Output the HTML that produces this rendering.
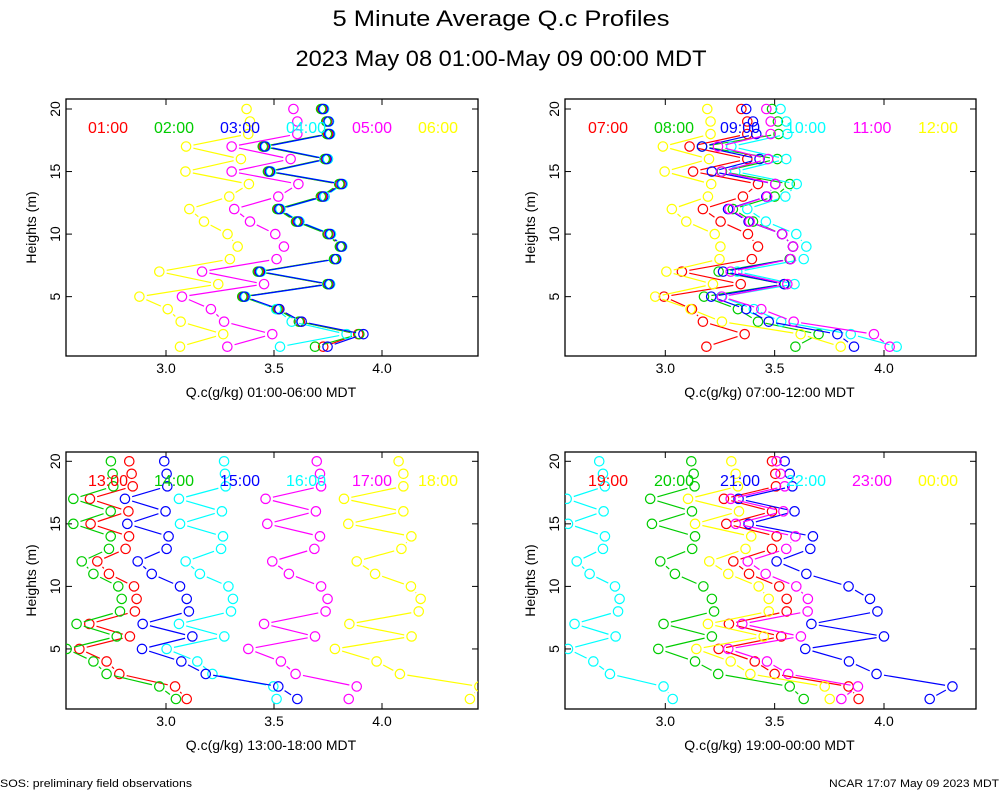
<!DOCTYPE html>
<html><head><meta charset="utf-8"><title>5 Minute Average Q.c Profiles</title>
<style>
html,body{margin:0;padding:0;background:#fff;}
svg{display:block;font-family:"Liberation Sans",sans-serif;}
</style></head>
<body>
<svg id="chart" width="1000" height="800" viewBox="0 0 1000 800" xmlns="http://www.w3.org/2000/svg">
<rect x="0" y="0" width="1000" height="800" fill="#fff"/>
<text x="501" y="26" font-size="22" text-anchor="middle" textLength="337" lengthAdjust="spacingAndGlyphs">5 Minute Average Q.c Profiles</text>
<text x="501" y="66" font-size="22" text-anchor="middle" textLength="411" lengthAdjust="spacingAndGlyphs">2023 May 08 01:00-May 09 00:00 MDT</text>
<text x="0" y="787" font-size="11" textLength="192" lengthAdjust="spacingAndGlyphs">SOS: preliminary field observations</text>
<text x="999" y="787" font-size="11" text-anchor="end" textLength="170" lengthAdjust="spacingAndGlyphs">NCAR 17:07 May 09 2023 MDT</text>
<g id="panels"></g>
</svg>
<script>
const heights = [20,19,18,17,16,15,14,13,12,11,10,9,8,7,6,5,4,3,2,1];
const xTicks = [3.0,3.5,4.0];
const xTickLabels = ["3.0","3.5","4.0"];
const yTicks = [5,10,15,20];
const yTickLabels = ["5","10","15","20"];
const colors = ["#ff0000","#00cc00","#0000ff","#00ffff","#ff00ff","#ffff00"];
const drawOrder = [0,1,3,2,4,5];

const p1Labels = ["01:00","02:00","03:00","04:00","05:00","06:00"];
const p1_0100 = [3.722,3.745,3.750,3.452,3.740,3.475,3.806,3.722,3.520,3.607,3.752,3.808,3.781,3.430,3.750,3.357,3.520,3.620,3.890,3.728];
const p1_0200 = [3.718,3.742,3.745,3.448,3.735,3.472,3.802,3.717,3.515,3.602,3.748,3.805,3.778,3.425,3.747,3.353,3.515,3.615,3.895,3.690];
const p1_0300 = [3.728,3.752,3.756,3.458,3.744,3.481,3.813,3.728,3.525,3.613,3.759,3.813,3.787,3.435,3.756,3.363,3.525,3.628,3.914,3.748];
const p1_0400 = [3.732,3.755,3.760,3.462,3.750,3.486,3.818,3.735,3.530,3.618,3.764,3.816,3.790,3.440,3.760,3.368,3.510,3.582,3.836,3.528];
const p1_0500 = [3.590,3.608,3.608,3.304,3.577,3.304,3.613,3.520,3.316,3.389,3.506,3.546,3.512,3.167,3.454,3.074,3.208,3.269,3.492,3.284];
const p1_0600 = [3.373,3.389,3.381,3.093,3.347,3.090,3.384,3.293,3.108,3.176,3.285,3.332,3.296,2.969,3.242,2.877,3.008,3.068,3.265,3.065];

const p2Labels = ["07:00","08:00","09:00","10:00","11:00","12:00"];
const p2_0700 = [3.348,3.375,3.375,3.111,3.375,3.127,3.424,3.355,3.172,3.253,3.378,3.424,3.396,3.076,3.345,2.994,3.122,3.172,3.363,3.188];
const p2_0800 = [3.488,3.515,3.518,3.168,3.512,3.259,3.569,3.500,3.309,3.401,3.534,3.584,3.569,3.244,3.546,3.177,3.332,3.424,3.701,3.595];
const p2_0900 = [3.370,3.401,3.416,3.168,3.431,3.213,3.503,3.462,3.287,3.381,3.534,3.584,3.572,3.264,3.543,3.210,3.370,3.473,3.787,3.863];
const p2_1000 = [3.527,3.553,3.558,3.302,3.553,3.320,3.601,3.549,3.375,3.460,3.599,3.645,3.633,3.329,3.591,3.256,3.405,3.530,3.848,4.058];
const p2_1100 = [3.462,3.482,3.482,3.241,3.470,3.256,3.503,3.466,3.294,3.386,3.535,3.584,3.573,3.299,3.558,3.259,3.439,3.587,3.954,4.026];
const p2_1200 = [3.192,3.207,3.207,2.989,3.200,2.997,3.210,3.195,3.030,3.096,3.226,3.252,3.248,3.005,3.218,2.954,3.116,3.259,3.619,3.802];

const p3Labels = ["13:00","14:00","15:00","16:00","17:00","18:00"];
const p3_1300 = [2.830,2.841,2.846,2.648,2.826,2.651,2.829,2.813,2.682,2.736,2.852,2.864,2.856,2.645,2.833,2.599,2.725,2.784,3.042,3.096];
const p3_1400 = [2.745,2.753,2.756,2.571,2.744,2.571,2.744,2.736,2.610,2.664,2.779,2.795,2.787,2.586,2.772,2.540,2.664,2.725,2.969,3.046];
const p3_1500 = [2.992,3.003,3.006,2.810,2.998,2.821,3.012,3.003,2.869,2.934,3.065,3.096,3.106,2.892,3.122,2.889,3.071,3.184,3.520,3.608];
const p3_1600 = [3.269,3.273,3.276,3.060,3.259,3.065,3.264,3.255,3.091,3.157,3.289,3.310,3.301,3.060,3.270,3.003,3.145,3.215,3.497,3.512];
const p3_1700 = [3.698,3.713,3.718,3.461,3.694,3.469,3.713,3.687,3.492,3.569,3.718,3.748,3.739,3.454,3.690,3.381,3.532,3.600,3.883,3.846];
const p3_1800 = [4.077,4.099,4.099,3.824,4.099,3.844,4.136,4.090,3.883,3.968,4.134,4.179,4.170,3.849,4.137,3.782,3.975,4.083,4.451,4.407];

const p4Labels = ["19:00","20:00","21:00","22:00","23:00","00:00"];
const p4_1900 = [3.488,3.503,3.506,3.268,3.488,3.279,3.509,3.488,3.311,3.383,3.521,3.555,3.555,3.291,3.530,3.244,3.409,3.500,3.838,3.884];
const p4_2000 = [3.119,3.130,3.134,2.931,3.122,2.939,3.136,3.123,2.977,3.044,3.174,3.213,3.223,2.992,3.213,2.968,3.136,3.242,3.569,3.633];
const p4_2100 = [3.546,3.569,3.581,3.335,3.591,3.381,3.675,3.663,3.509,3.645,3.838,3.936,3.970,3.668,4.000,3.640,3.840,3.966,4.313,4.209];
const p4_2200 = [2.698,2.715,2.724,2.549,2.718,2.555,2.724,2.715,2.595,2.654,2.770,2.791,2.784,2.585,2.773,2.555,2.671,2.747,2.992,3.034];
const p4_2300 = [3.509,3.527,3.546,3.299,3.540,3.322,3.595,3.553,3.377,3.459,3.599,3.652,3.651,3.352,3.620,3.288,3.465,3.562,3.881,3.805];
const p4_0000 = [3.302,3.322,3.332,3.104,3.337,3.136,3.393,3.367,3.201,3.288,3.427,3.473,3.473,3.195,3.450,3.142,3.299,3.389,3.729,3.752];

const panelDefs = [
  {id:"p1", x0:66, x1:478, y0:99, y1:356, xAt3:166, pxPerUnit:216, y20:109, labels:p1Labels, series:[p1_0100,p1_0200,p1_0300,p1_0400,p1_0500,p1_0600], title:"Q.c(g/kg) 01:00-06:00 MDT", legendX:108},
  {id:"p2", x0:565, x1:976, y0:99, y1:356, xAt3:665.3, pxPerUnit:218.7, y20:109, labels:p2Labels, series:[p2_0700,p2_0800,p2_0900,p2_1000,p2_1100,p2_1200], title:"Q.c(g/kg) 07:00-12:00 MDT", legendX:608},
  {id:"p3", x0:66, x1:478, y0:452, y1:709, xAt3:166, pxPerUnit:216, y20:461.3, labels:p3Labels, series:[p3_1300,p3_1400,p3_1500,p3_1600,p3_1700,p3_1800], title:"Q.c(g/kg) 13:00-18:00 MDT", legendX:108},
  {id:"p4", x0:565, x1:976, y0:452, y1:709, xAt3:665.3, pxPerUnit:218.7, y20:461.3, labels:p4Labels, series:[p4_1900,p4_2000,p4_2100,p4_2200,p4_2300,p4_0000], title:"Q.c(g/kg) 19:00-00:00 MDT", legendX:608}
];
const NS = "http://www.w3.org/2000/svg";
const root = document.getElementById("panels");
function mk(tag, attrs, parent){
  const e = document.createElementNS(NS, tag);
  for (const k in attrs) e.setAttribute(k, attrs[k]);
  parent.appendChild(e);
  return e;
}
panelDefs.forEach(function(p, pi){
  const xs = v => p.xAt3 + (v - 3.0) * p.pxPerUnit;
  const ys = h => p.y20 + (20 - h) * 12.51;
  const g = mk("g", {}, root);
  
  
  const clipId = "clip" + p.id;
  const cp = mk("clipPath", {id: clipId}, g);
  mk("rect", {x:p.x0, y:p.y0, width:p.x1-p.x0, height:p.y1-p.y0}, cp);
  const frame = mk("rect", {x:p.x0, y:p.y0, width:p.x1-p.x0, height:p.y1-p.y0, fill:"none", stroke:"#000", "stroke-width":"1.3"}, g);
  
  
  xTicks.forEach(function(t, i){
    const x = xs(t);
    const tb = mk("line", {x1:x, x2:x, y1:p.y1, y2:p.y1-6, stroke:"#000"}, g);
    
    
    mk("line", {x1:x, x2:x, y1:p.y0, y2:p.y0+6, stroke:"#000"}, g);
    const tl = mk("text", {x:x, y:p.y1+17, "font-size":"14", "text-anchor":"middle"}, g);
    tl.textContent = xTickLabels[i];
    
    
  });
  yTicks.forEach(function(t, i){
    const y = ys(t);
    const tk = mk("line", {x1:p.x0, x2:p.x0+6, y1:y, y2:y, stroke:"#000"}, g);
    
    
    mk("line", {x1:p.x1, x2:p.x1-6, y1:y, y2:y, stroke:"#000"}, g);
    const lx = p.x0 - 6;
    const tl = mk("text", {x:lx, y:y, "font-size":"14", "text-anchor":"middle", transform:"rotate(-90 "+lx+" "+y+")"}, g);
    tl.textContent = yTickLabels[i];
    
    
  });
  const yt = mk("text", {x:p.x0-30, y:(p.y0+p.y1)/2, "font-size":"14", "text-anchor":"middle", transform:"rotate(-90 "+(p.x0-30)+" "+((p.y0+p.y1)/2)+")"}, g);
  yt.textContent = "Heights (m)";
  
  
  const xt = mk("text", {x:(p.x0+p.x1)/2 - 1, y:p.y1+41, "font-size":"14", "text-anchor":"middle"}, g);
  xt.textContent = p.title;
  
  
  const dg = mk("g", {"clip-path":"url(#"+clipId+")"}, g);
  drawOrder.forEach(function(si){
    const vals = p.series[si];
    const sg = mk("g", {stroke:colors[si], fill:"none", "stroke-width":"1.2"}, dg);
    
    
    for (let i = 0; i < vals.length - 1; i++){
      const ax = xs(vals[i]), ay = ys(heights[i]), bx = xs(vals[i+1]), by = ys(heights[i+1]);
      const dx = bx-ax, dy = by-ay, L = Math.hypot(dx,dy);
      const gap = 7.5;
      if (L > 2*gap){
        const ux = dx/L, uy = dy/L;
        const seg = mk("line", {x1:ax+ux*gap, y1:ay+uy*gap, x2:bx-ux*gap, y2:by-uy*gap}, sg);
        
        
      }
    }
    vals.forEach(function(v, i){
      const c = mk("circle", {cx:xs(v), cy:ys(heights[i]), r:"4.7"}, sg);
      
      
    });
  });
  p.labels.forEach(function(lab, si){
    const t = mk("text", {x:p.legendX + si*66, y:p.y0+34, "font-size":"16", "text-anchor":"middle", fill:colors[si]}, g);
    t.textContent = lab;
    
    
  });
});
</script>
</body></html>
